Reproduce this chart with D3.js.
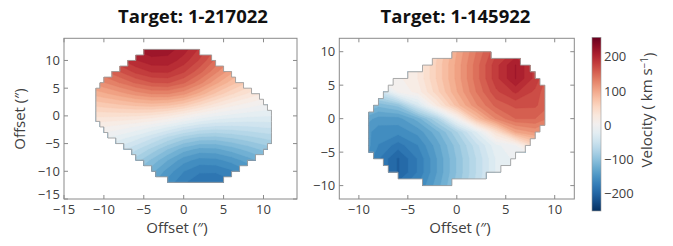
<!DOCTYPE html>
<html>
<head>
<meta charset="utf-8">
<script src="https://cdn.jsdelivr.net/npm/d3@7"></script>
<style>
  html, body { margin: 0; padding: 0; background: #ffffff; }
  svg { display: block; }
</style>
</head>
<body>
<svg id="chart" width="673" height="246"></svg>
<script>
// ---------------- DATA ----------------
const panelTitles = ["Target: 1-217022", "Target: 1-145922"];

// Left galaxy: velocity (km/s) sampled on a 2" grid, rows from top (y=+12) to bottom (y=-12)
const leftGridX = [-12, -10, -8, -6, -4, -2, 0, 2, 4, 6, 8, 10, 12];
const leftGridY = [12, 10, 8, 6, 4, 2, 0, -2, -4, -6, -8, -10, -12];
const leftVelocity = [
  [170, 186, 201, 214, 221, 218, 206, 185, 161, 138, 117, 99, 84],
  [154, 169, 185, 199, 208, 208, 194, 173, 147, 123, 102, 84, 70],
  [134, 148, 163, 179, 189, 190, 177, 155, 129, 104, 84, 67, 54],
  [112, 124, 138, 152, 162, 164, 152, 130, 104, 81, 62, 47, 36],
  [89, 97, 107, 118, 126, 126, 116, 95, 72, 52, 36, 24, 16],
  [64, 69, 74, 79, 82, 79, 68, 50, 32, 17, 7, -1, -5],
  [40, 40, 39, 38, 34, 25, 12, -2, -12, -18, -22, -24, -26],
  [16, 12, 6, -2, -12, -25, -39, -49, -54, -54, -52, -49, -47],
  [-6, -12, -21, -33, -49, -67, -83, -93, -94, -88, -81, -74, -68],
  [-24, -33, -45, -60, -79, -100, -119, -129, -128, -119, -108, -97, -88],
  [-40, -51, -65, -82, -103, -125, -145, -155, -154, -145, -132, -119, -108],
  [-55, -67, -81, -100, -121, -143, -162, -173, -173, -165, -152, -138, -125],
  [-68, -80, -95, -113, -134, -155, -173, -185, -186, -179, -167, -153, -141]
];
// Left galaxy mask: one row per 1" strip (bottom edge y), x extent of the spaxels
const leftMaskRowY = [-12, -11, -10, -9, -8, -7, -6, -5, -4, -3, -2, -1, 0, 1, 2, 3, 4, 5, 6, 7, 8, 9, 10, 11];
const leftMaskXMin = [-2, -3.5, -4, -5, -6, -6.5, -7.5, -8.5, -9.5, -10, -10.5, -11, -11, -11, -11, -11, -11, -10.5, -10, -9, -8, -7, -6, -5];
const leftMaskXMax = [5, 6, 7, 8, 9, 10, 10.5, 11, 11, 11, 11, 11, 11, 10.5, 10, 9.5, 8.5, 7.5, 6.5, 6, 5, 4, 3.5, 2];

// Right galaxy: velocity (km/s) on a 2" grid, rows from top (y=+10) to bottom (y=-10)
const rightGridX = [-10, -8, -6, -4, -2, 0, 2, 4, 6, 8, 10];
const rightGridY = [10, 8, 6, 4, 2, 0, -2, -4, -6, -8, -10];
const rightVelocity = [
  [10, 10, 10, 22, 61, 100, 138, 172, 190, 172, 138],
  [8, 10, 10, 25, 65, 104, 144, 183, 213, 183, 144],
  [-10, 6, 9, 25, 65, 104, 144, 183, 213, 183, 144],
  [-64, -53, 2, 17, 58, 99, 138, 172, 190, 172, 138],
  [-87, -109, -96, -37, 26, 81, 123, 154, 166, 165, 145],
  [-124, -143, -143, -120, -74, 0, 78, 126, 150, 150, 130],
  [-138, -157, -158, -146, -117, -77, -25, 39, 101, 115, 92],
  [-131, -163, -181, -163, -131, -94, -55, -16, -2, 56, 67],
  [-137, -174, -202, -174, -137, -99, -62, -24, -9, -6, 11],
  [-137, -174, -202, -174, -137, -99, -62, -24, -10, -10, -8],
  [-131, -163, -181, -163, -131, -95, -58, -21, -10, -10, -10]
];
const rightMaskRowY = [-10, -9, -8, -7, -6, -5, -4, -3, -2, -1, 0, 1, 2, 3, 4, 5, 6, 7, 8, 9];
const rightMaskXMin = [-3.5, -6, -7, -7.5, -8.5, -9, -9, -9, -9, -9, -9, -8.5, -8, -7.5, -7, -6.5, -5, -3.5, -2.5, -0.5];
const rightMaskXMax = [-0.5, 3, 4.5, 5.5, 6, 7, 7.5, 8, 8.5, 9, 9, 9, 9, 9, 9, 8.5, 8, 7.5, 6.5, 3.5];

// Tick labels
const leftXTicks = [-15, -10, -5, 0, 5, 10];
const leftYTicks = [-15, -10, -5, 0, 5, 10];
const rightXTicks = [-10, -5, 0, 5, 10];
const rightYTicks = [-10, -5, 0, 5, 10];
const colorbarTicks = [-200, -100, 0, 100, 200];
const xAxisLabel = "Offset (\u2033)";
const yAxisLabel = "Offset (\u2033)";
const colorbarLabel = "Velocity ( km s";

// ---------------- RENDER ----------------
const svg = d3.select("#chart");
const FONT = "'Open Sans', 'DejaVu Sans', sans-serif";
const vMin = -250, vMax = 257;
const colorOf = v => d3.interpolateRdBu(1 - (v - vMin) / (vMax - vMin));
const levelStep = 12.5;
const levels = d3.range(-250, 257, levelStep);

const frameTop = 38.3, frameBottom = 199;
const axisColor = "#8a8a8a";
const labelColor = "#404040";

function drawPanel(cfg, idx) {
  const x = d3.scaleLinear().domain(cfg.xDomain).range(cfg.xRange);
  const y = d3.scaleLinear().domain(cfg.yDomain).range([frameBottom, frameTop]);
  const g = svg.append("g");

  // mask polygon (stair-stepped spaxel outline)
  const pts = [];
  for (let i = 0; i < cfg.maskY.length; i++) {
    pts.push([cfg.maskXMin[i], cfg.maskY[i]], [cfg.maskXMin[i], cfg.maskY[i] + 1]);
  }
  for (let i = cfg.maskY.length - 1; i >= 0; i--) {
    pts.push([cfg.maskXMax[i], cfg.maskY[i] + 1], [cfg.maskXMax[i], cfg.maskY[i]]);
  }
  const line = d3.line().x(p => x(p[0])).y(p => y(p[1]));
  const maskD = line(pts) + "Z";
  const clipId = "mask" + idx;
  svg.append("defs").append("clipPath").attr("id", clipId).append("path").attr("d", maskD);

  // filled contours
  const n = cfg.gridX.length, m = cfg.gridY.length;
  const values = cfg.velocity.flat();
  const bands = d3.contours().size([n, m]).thresholds(levels)(values);
  const sx = cfg.gridX[1] - cfg.gridX[0], sy = cfg.gridY[1] - cfg.gridY[0];
  const proj = d3.geoTransform({
    point: function (px, py) {
      this.stream.point(x(cfg.gridX[0] + (px - 0.5) * sx), y(cfg.gridY[0] + (py - 0.5) * sy));
    }
  });
  const path = d3.geoPath(proj);
  g.append("g").attr("clip-path", `url(#${clipId})`)
    .selectAll("path").data(bands).join("path")
    .attr("d", path)
    .attr("fill", d => colorOf(d.value + levelStep / 2))
    .attr("stroke", d => colorOf(d.value + levelStep / 2))
    .attr("stroke-width", 0.4);

  g.append("path").attr("d", maskD).attr("fill", "none")
    .attr("stroke", "#a0a0a0").attr("stroke-width", 0.9);

  // frame
  g.append("rect").attr("x", cfg.xRange[0]).attr("y", frameTop)
    .attr("width", cfg.xRange[1] - cfg.xRange[0]).attr("height", frameBottom - frameTop)
    .attr("fill", "none").attr("stroke", axisColor).attr("stroke-width", 1);

  // inward ticks on all four sides
  const tl = 4;
  cfg.xTicks.forEach(t => {
    g.append("line").attr("x1", x(t)).attr("x2", x(t)).attr("y1", frameBottom).attr("y2", frameBottom - tl).attr("stroke", axisColor);
    g.append("line").attr("x1", x(t)).attr("x2", x(t)).attr("y1", frameTop).attr("y2", frameTop + tl).attr("stroke", axisColor);
  });
  cfg.yTicks.forEach(t => {
    g.append("line").attr("y1", y(t)).attr("y2", y(t)).attr("x1", cfg.xRange[0]).attr("x2", cfg.xRange[0] + tl).attr("stroke", axisColor);
    g.append("line").attr("y1", y(t)).attr("y2", y(t)).attr("x1", cfg.xRange[1]).attr("x2", cfg.xRange[1] - tl).attr("stroke", axisColor);
  });

  const fmt = d3.format("d");
  g.selectAll(".xt").data(cfg.xTicks).join("text")
    .attr("x", d => x(d)).attr("y", 214)
    .attr("text-anchor", "middle").attr("font-family", FONT).attr("font-size", 13)
    .attr("fill", labelColor).text(d => fmt(d));
  g.selectAll(".yt").data(cfg.yTicks).join("text")
    .attr("x", cfg.xRange[0] - 4).attr("y", d => y(d) - (d === cfg.yDomain[0] ? 4.5 : 0)).attr("dy", "0.35em")
    .attr("text-anchor", "end").attr("font-family", FONT).attr("font-size", 13)
    .attr("fill", labelColor).text(d => fmt(d));

  // title
  g.append("text").attr("x", cfg.titleX).attr("y", 23).attr("text-anchor", "middle")
    .attr("font-family", FONT).attr("font-weight", "bold").attr("font-size", 18.5)
    .attr("fill", "#111").text(panelTitles[idx]);

  // x label
  g.append("text").attr("x", cfg.xLabelX).attr("y", 233).attr("text-anchor", "middle")
    .attr("font-family", FONT).attr("font-size", 15).attr("fill", labelColor).text(xAxisLabel);
}

drawPanel({
  xDomain: [-15, 14.2], xRange: [64, 297], yDomain: [-15, 14],
  gridX: leftGridX, gridY: leftGridY, velocity: leftVelocity,
  maskY: leftMaskRowY, maskXMin: leftMaskXMin, maskXMax: leftMaskXMax,
  xTicks: leftXTicks, yTicks: leftYTicks, titleX: 193, xLabelX: 177
}, 0);
drawPanel({
  xDomain: [-12, 12], xRange: [339.3, 574.3], yDomain: [-12, 12],
  gridX: rightGridX, gridY: rightGridY, velocity: rightVelocity,
  maskY: rightMaskRowY, maskXMin: rightMaskXMin, maskXMax: rightMaskXMax,
  xTicks: rightXTicks, yTicks: rightYTicks, titleX: 455.5, xLabelX: 460
}, 1);

// left y label
svg.append("text").attr("transform", "translate(25,119) rotate(-90)")
  .attr("text-anchor", "middle").attr("font-family", FONT).attr("font-size", 15)
  .attr("fill", labelColor).text(yAxisLabel);

// ---------------- COLORBAR ----------------
const cbX = 592, cbW = 9, cbTop = 37.3, cbBottom = 211;
const cbScale = d3.scaleLinear().domain([vMin, vMax]).range([cbBottom, cbTop]);
const grad = svg.append("defs").append("linearGradient").attr("id", "cbgrad")
  .attr("x1", 0).attr("y1", 1).attr("x2", 0).attr("y2", 0);
d3.range(0, 1.0001, 0.05).forEach(t => {
  grad.append("stop").attr("offset", t).attr("stop-color", colorOf(vMin + t * (vMax - vMin)));
});
svg.append("rect").attr("x", cbX).attr("y", cbTop).attr("width", cbW).attr("height", cbBottom - cbTop)
  .attr("fill", "url(#cbgrad)").attr("stroke", "#9a9a9a").attr("stroke-width", 0.6);
svg.selectAll(".cbt").data(colorbarTicks).join("text")
  .attr("x", cbX + cbW + 3).attr("y", d => cbScale(d)).attr("dy", "0.35em")
  .attr("font-family", FONT).attr("font-size", 13).attr("fill", labelColor)
  .text(d => d3.format("d")(d));
const cbl = svg.append("text").attr("transform", "translate(652,110) rotate(-90)")
  .attr("text-anchor", "middle").attr("font-family", FONT).attr("font-size", 15)
  .attr("fill", labelColor);
cbl.append("tspan").text(colorbarLabel);
cbl.append("tspan").attr("dy", "-0.45em").attr("font-size", 10).text("\u22121");
cbl.append("tspan").attr("dy", "0.45em").text(")");
</script>
</body>
</html>
